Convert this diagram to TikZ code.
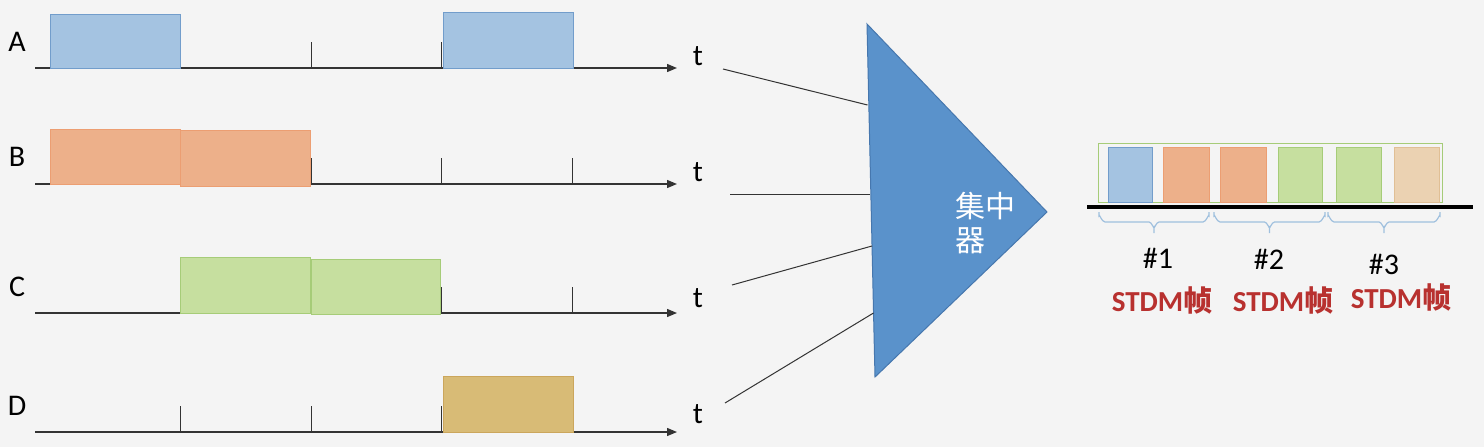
\documentclass[tikz,border=0pt]{standalone}
\usepackage{fontspec}
\setmainfont{Carlito}
\newfontfamily\cjk{Noto Sans CJK SC}
\usetikzlibrary{arrows.meta,calc}
\definecolor{bg}{HTML}{F4F4F4}
\definecolor{bluef}{HTML}{A4C3E1}
\definecolor{blued}{HTML}{729DCB}
\definecolor{orgf}{HTML}{EDB08A}
\definecolor{orgd}{HTML}{EC9E72}
\definecolor{grnf}{HTML}{C6DF9F}
\definecolor{grnd}{HTML}{A6CC78}
\definecolor{goldf}{HTML}{D8BB76}
\definecolor{goldd}{HTML}{CBA65C}
\definecolor{tanf}{HTML}{EBD2B2}
\definecolor{tand}{HTML}{E0BF95}
\definecolor{trif}{HTML}{5A92CB}
\definecolor{trid}{HTML}{4677AE}
\definecolor{brcc}{HTML}{9FC0DE}
\definecolor{stdm}{HTML}{B8312F}
\definecolor{axc}{HTML}{333333}
\tikzset{
  axis/.style={draw=axc,line width=1.3pt,-{Triangle[length=10pt,width=8pt]}},
  tick/.style={draw=axc,line width=0.9pt},
  lbl/.style={font=\fontsize{30}{30}\selectfont,text=black,inner sep=0pt},
  sig/.style={line width=1pt},
  sbox/.style={line width=1pt},
  feed/.style={draw=axc,line width=1pt},
  brcs/.style={draw=brcc,line width=1.2pt},
  num/.style={font=\fontsize{30}{30}\selectfont,inner sep=0pt},
  fr/.style={font=\fontsize{29}{29}\selectfont\bfseries,text=stdm,inner sep=0pt}
}
\begin{document}
\begin{tikzpicture}[x=1pt,y=-1pt]
\fill[bg] (0,0) rectangle (1484,447);
\useasboundingbox (0,0) rectangle (1484,447);
% ticks
\foreach \yy in {68,184,313,432}{
  \foreach \xx in {180,311,441,572}{
    \draw[tick] (\xx,\yy) -- (\xx,\yy-26);
  }
}
% axes
\foreach \yy/\nm in {68/A,184/B,313/C,432/D}{
  \coordinate (s\nm) at (35,\yy);
  \coordinate (e\nm) at (677,\yy);
  \draw[axis] (s\nm) -- (e\nm);
}
% signal boxes
\draw[sig,fill=bluef,draw=blued] (50,14) rectangle (180,68);
\draw[sig,fill=bluef,draw=blued] (443,12) rectangle (573,68);
\draw[sig,fill=orgf,draw=orgd] (50,129) rectangle (180,184);
\draw[sig,fill=orgf,draw=orgd] (180,130) rectangle (310,186);
\draw[sig,fill=grnf,draw=grnd] (180,257) rectangle (310,313);
\draw[sig,fill=grnf,draw=grnd] (311,259) rectangle (440,314);
\draw[sig,fill=goldf,draw=goldd] (443,376) rectangle (573,432);
% labels
\node[lbl] (lA) at (17,42) {A};
\node[lbl] (lB) at (17,157) {B};
\node[lbl] (lC) at (17,287) {C};
\node[lbl] (lD) at (17,406) {D};
\node[lbl] (tA) at (698,56) {t};
\node[lbl] (tB) at (698,172) {t};
\node[lbl] (tC) at (698,298) {t};
\node[lbl] (tD) at (698,414) {t};
% concentrator
\coordinate (T1) at (867,24);
\coordinate (T2) at (875,377);
\coordinate (T3) at (1047,212);
\draw[fill=trif,draw=trid,line width=1pt] (T1) -- (T3) -- (T2) -- cycle;
\node[text=white,font=\fontsize{30}{34}\cjk,align=left,anchor=north west,inner sep=0pt] (conc) at (955,192) {集中\\器};
% feed lines
\coordinate (fA) at (723,69);
\coordinate (fB) at (730,194);
\coordinate (fC) at (732,285);
\coordinate (fD) at (725,403);
\coordinate (iA) at (867.5,105);
\coordinate (iB) at (870,194);
\coordinate (iC) at (872,246);
\coordinate (iD) at (873.5,313);
\foreach \nm in {A,B,C,D}{ \draw[feed] (f\nm) -- (i\nm); }
% STDM frames
\draw[draw=grnd,line width=1pt] (1098,143) rectangle (1442,202);
\draw[sbox,fill=bluef,draw=blued] (1108,147) rectangle (1152,202);
\draw[sbox,fill=orgf,draw=orgd] (1163,147) rectangle (1209,202);
\draw[sbox,fill=orgf,draw=orgd] (1220,147) rectangle (1266,202);
\draw[sbox,fill=grnf,draw=grnd] (1278,147) rectangle (1322,202);
\draw[sbox,fill=grnf,draw=grnd] (1336,147) rectangle (1381,202);
\draw[sbox,fill=tanf,draw=tand] (1394,147) rectangle (1439,202);
\coordinate (L1) at (1087,207);
\coordinate (L2) at (1473,207);
\draw[black,line width=3.5pt] (L1) -- (L2);
% braces (drawn by hand)
\foreach \a/\b in {1099/1209,1214/1325,1328/1440}{
  \pgfmathsetmacro{\m}{(\a+\b)/2}
  \draw[brcs] (\a,212) -- (\a,216) to[out=90,in=180] (\a+6,222) -- (\m-5,222)
     to[out=0,in=-90] (\m,227) -- (\m,233)
     (\m,227) to[out=-90,in=180] (\m+5,222) -- (\b-6,222) to[out=0,in=90] (\b,216) -- (\b,212);
}
\node[num] (n1) at (1158,258) {\#1};
\node[num] (n2) at (1269,259) {\#2};
\node[num] (n3) at (1384,264) {\#3};
\node[fr] (f1) at (1162,300) {STDM{\cjk 帧}};
\node[fr] (f2) at (1283,300) {STDM{\cjk 帧}};
\node[fr] (f3) at (1401,297) {STDM{\cjk 帧}};
\end{tikzpicture}
\end{document}
